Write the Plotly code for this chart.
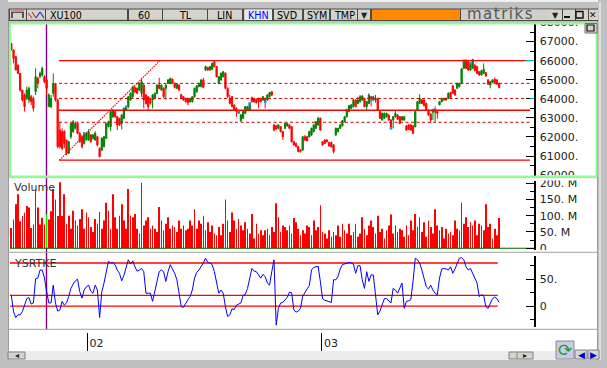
import plotly.graph_objects as go

W, H = 607, 368

opens = [66910,66560,66210,65770,65340,64460,64200,64020,63940,64110,
 64020,64370,65070,65160,65250,65160,64990,63590,63590,64290,
 64810,63940,62360,62280,62280,61840,61140,62010,62280,62450,
 62710,62190,62010,61660,61840,61840,62100,61930,61840,62010,
 61400,61310,61490,61930,62540,62540,63060,63330,63060,62980,
 62710,62980,63410,63590,63940,64110,64600,64550,64460,64290,
 64720,64200,64110,64000,63940,64020,64290,
 64720,64460,64550,64550,64810,64810,65030,64810,64550,64720,
 64220,64110,64020,64020,63850,63850,64110,64370,64640,64640,64990,
 65510,65640,65510,65550,65950,65690,64810,64990,65160,65340,
 64550,64020,64110,63670,63500,63240,62850,62980,63240,63410,
 63410,64070,64020,63980,64020,64020,63940,64020,63940,64110,64370,
 62630,62580,62450,62540,62280,62450,62580,62630,62540,61750,
 61660,61490,61310,61310,62010,62010,62010,62100,62280,62450,
 62630,62980,61750,61840,61840,61710,61710,61580,62100,62280,
 62450,62580,62800,63060,63330,63500,63590,63940,63760,63850,
 63940,64020,63590,63760,64110,63940,63940,64020,63330,62890,
 62980,63060,63150,62890,62890,63060,63150,63060,62890,62890,
 62580,62630,62630,62580,62540,63410,63760,63940,63940,63760,
 63410,63200,63300,63300,63330,63680,63850,64020,63940,64020,
 64330,64680,64460,64550,64640,64810,65600,66030,65950,65510,
 65600,65770,65690,65420,65250,65340,65370,64990,64720,64860,65030,64990,64810]
closes = [66560,66120,65510,65340,64460,63940,63590,64460,64550,63850,
 63500,65160,64810,65340,65600,64900,64550,64200,64020,64810,
 63940,61490,61490,61400,61660,61140,61750,62710,62800,62710,
 62190,61750,61490,62190,62190,62280,61750,62100,62190,61580,
 60960,61930,62010,62710,62800,63330,63410,63060,62630,62630,
 63150,63500,63590,64110,64290,64640,64370,64290,64810,64900,
 63940,63760,63590,63760,64200,64290,64720,
 64550,64720,64110,64720,64990,65070,64810,64600,64770,64460,
 64020,63940,63850,63800,64020,64110,64550,64680,64810,64990,64600,
 65690,65510,65690,65860,65690,65160,65160,65340,65420,64550,
 64110,63760,63590,63410,63330,63330,63150,63330,63590,63590,
 63760,63850,63850,63800,63850,63850,64110,63850,64200,64330,64200,
 62360,62410,62630,62280,62010,62710,62710,62450,61750,61580,
 61490,61230,61230,62010,61840,61800,62280,62450,62630,62800,
 62980,62360,61580,61660,61750,61530,61480,61230,62450,62450,
 62630,62850,63060,63410,63640,63680,63940,63590,63940,64110,
 64150,63590,63850,64200,63940,64110,64020,63410,62980,63240,
 63240,63240,62890,62450,63060,63240,62930,62710,63060,63060,
 62360,62400,62360,62190,63330,63850,64020,63760,63640,63410,
 63150,62890,63410,63410,63240,63850,64020,63940,64020,64290,
 64060,64290,64200,64810,64810,65570,66000,65600,65510,65860,
 66060,65480,65340,65250,65480,65550,65200,64770,64900,64990,64860,64770,64600]
highs = [66910,66600,66250,65800,65340,64460,64290,64640,64640,64200,
 64110,65600,65160,65430,65690,65250,65070,64290,64200,65340,
 64810,64020,62800,62450,62360,61840,61800,62750,62890,62800,
 62750,62250,62100,62250,62250,62400,62150,62150,62300,62050,
 61450,61980,62050,62750,62850,63350,63450,63370,63100,63000,
 63200,63550,63640,64150,64330,64680,64650,64600,64850,65100,
 64760,64250,64150,64050,64250,64330,64760,
 65100,64760,64600,64760,65030,65110,65070,64850,64810,64760,
 64260,64150,64060,64060,64060,64150,64590,64720,64850,65030,65100,
 65730,65680,65730,65900,66030,65730,65200,65380,65460,65380,
 64600,64200,64150,63710,63550,63370,63200,63370,63630,63630,
 63800,64110,64060,64020,64060,64060,64150,64060,64240,64370,64410,
 62670,62620,62670,62580,62320,62750,62750,62670,62580,61790,
 61700,61530,61350,62050,62100,62050,62320,62490,62670,62840,
 63060,63020,61790,61880,61880,61750,61750,61620,62490,62490,
 62670,62890,63100,63450,63680,63720,63980,63980,64110,64200,
 64190,64060,63890,64290,64150,64150,64200,64060,63370,63280,
 63280,63280,63190,62930,63100,63410,63190,63100,63100,63100,
 62620,62670,62670,62620,63370,63890,64240,63980,63980,63800,
 63450,63240,63450,63600,63370,63890,64060,64060,64060,64330,
 64370,64720,64500,64850,64850,65610,66040,66070,65990,65900,
 66100,65810,65730,65460,65520,65860,65410,65030,64940,65030,65120,65030,64850]
lows = [66560,65860,65510,65300,64370,63850,63330,63940,63760,63670,
 63330,64200,64550,65070,65160,64810,64200,63590,63500,64110,
 63850,61400,61400,61310,61400,61050,61100,61900,62200,62400,
 62150,61700,61400,61600,61800,61800,61700,61850,61800,61500,
 60930,61250,61450,61900,62500,62300,63000,63000,62360,62580,
 62400,62950,63380,63500,63900,64050,64300,64250,64400,64100,
 63500,63700,63400,63700,63500,63980,64250,
 64500,64420,64050,63960,64770,64770,64770,64550,64500,64400,
 63980,63900,63800,63650,63800,63800,64060,64320,64600,64600,64550,
 65470,65470,65470,65500,65650,65120,64770,64950,65120,64500,
 64060,63700,63550,63370,63060,63200,62800,62940,63200,63370,
 63370,63800,63800,63750,63500,63800,63900,63500,63900,64070,64150,
 62280,62370,62410,62240,61840,62410,62540,62410,61710,61540,
 61450,61190,61190,61270,61800,61760,61970,62060,62240,62410,
 62590,62320,61540,61620,61710,61490,61440,61140,62060,62240,
 62410,62540,62760,63020,63290,63460,63550,63550,63720,63810,
 63900,63550,63400,63720,63600,63900,63800,63370,62940,62850,
 62940,63020,62850,62400,62450,63020,62890,62670,62850,62850,
 62320,62360,62320,62150,62500,63370,63720,63720,63600,63370,
 63110,62720,62890,62800,62950,63670,63810,63900,63900,63980,
 64020,64250,64160,64510,64600,64770,65560,65560,65470,65470,
 65560,65440,65300,65210,65210,65300,65160,64730,64550,64820,64820,64730,64560]
doji_bars = [33,52,103,108,115,152,163,172,191,192,205,208]

volume_m = [62,88,135,166,83,99,109,130,125,62,73,182,125,73,94,73,104,88,114,182,
 150,99,203,99,166,75,100,60,115,85,70,90,120,60,110,95,65,50,90,75,
 111,60,85,140,115,60,166,95,60,100,135,85,60,182,100,95,105,60,45,200,
 70,85,95,60,70,60,50,127,85,55,75,95,60,70,65,50,85,60,70,55,
 60,85,70,120,60,85,75,100,55,80,50,70,45,40,65,40,75,150,85,50,
 110,85,60,90,70,55,80,60,45,105,30,75,45,55,40,55,60,40,65,50,
 138,95,50,70,65,55,70,45,93,80,60,40,55,45,70,65,40,85,55,65,
 132,50,45,30,55,35,50,40,70,35,75,55,45,75,40,50,75,35,45,95,
 60,40,70,85,65,45,100,50,60,30,55,70,104,45,70,50,60,55,35,70,
 40,85,55,105,65,95,50,80,35,85,65,45,120,70,55,65,30,60,45,50,
 40,85,60,55,140,75,95,65,80,70,85,40,75,70,55,135,65,75,30,60,40,93]

ysrtke = [20,-10,-21,-16,-16,-10,2,14,16,4,6,51,52,67,67,52,27,6,6,39,
 6,-9,-7,9,2,6,18,33,41,47,50,27,15,30,36,39,28,24,39,30,
 -21,27,43,61,83,80,81,77,67,61,47,57,73,86,78,84,73,65,67,70,
 64,24,24,24,9,30,46,64,67,64,46,64,77,69,61,49,24,-1,-2,6,
 12,18,30,52,63,67,73,80,89,81,80,77,64,43,24,30,24,-1,-19,-16,
 -5,-6,2,4,6,20,22,33,55,70,65,64,58,52,59,55,43,39,64,86,
 -35,-4,6,7,12,16,26,25,-7,-11,-9,-4,18,26,32,38,67,72,73,74,
 46,14,11,10,9,7,49,49,55,69,77,78,80,81,80,78,61,75,75,49,
 33,64,46,58,58,21,-16,-9,1,14,14,9,6,33,30,24,32,43,-4,9,
 10,12,46,89,86,80,67,49,36,32,39,30,24,21,52,69,70,69,67,73,
 61,69,78,89,90,86,73,67,70,61,51,43,18,21,20,-1,-4,7,14,17,14,7]

price_solid = [66000, 63400, 60780]
price_dashed = [64810, 64020, 62770]
level_span = [21.6, 235]
trend_bars = [21.8, 67.3]
trend_price = [60780, 66000]
osc_levels = [80, 20, 0]
osc_span = [-0.6, 220.4]
cursor_bar = 16

price_ticks = [68000,67000,66000,65000,64000,63000,62000,61000,60000]
price_labels = ["68000.","67000.","66000.","65000.","64000.","63000.","62000.","61000.","60000."]
price_minor = [67500,66500,65500,64500,63500,62500,61500,60500]
vol_ticks = [200,150,100,50,0]
vol_labels = ["200. M","150. M","100. M","50. M","0"]
vol_minor = [175,125,75,25]
osc_ticks = [50,0]
osc_labels = ["50.","0"]
osc_minor = [75,25,-25]
month_bars = [34.5, 140.7]
month_labels = ["02","03"]

def fx(px): return px / W
def fy(px): return 1 - px / H

GRAY = "#c0c0c0"
BTN = "#d6d3cb"
shapes, ann = [], []

def rect(x0, y0, x1, y1, fill, line=None, lw=1, layer="above"):
    shapes.append(dict(type="rect", xref="paper", yref="paper", x0=fx(x0), x1=fx(x1),
                       y0=fy(y0), y1=fy(y1), fillcolor=fill, layer=layer,
                       line=dict(color=line or fill, width=lw if line else 0)))
def seg(x0, y0, x1, y1, color, lw=1, layer="above"):
    shapes.append(dict(type="line", xref="paper", yref="paper", x0=fx(x0), x1=fx(x1),
                       y0=fy(y0), y1=fy(y1), layer=layer, line=dict(color=color, width=lw)))
def text(x, y, s, size=11, color="#222", family="DejaVu Sans", anchor="left"):
    ann.append(dict(text=s, x=fx(x), y=fy(y), xref="paper", yref="paper", showarrow=False,
                    xanchor=anchor, yanchor="middle", font=dict(size=size, color=color, family=family),
                    borderpad=0))

# white panes (below the marks)
rect(8.5, 21, 597.5, 351, "#ffffff", layer="below")
# cursor line
seg(46.5, 22, 46.5, 329, "#800080", 1.4, "below")

# masks & window chrome above the axis labels
rect(0, 0, 607, 23, GRAY)
seg(0, 1, 607, 1, "#f0f0f0", 2)
rect(8.5, 8.5, 598, 21, "#4a4a4a")
rect(0, 0, 8, 368, GRAY)
rect(598, 0, 607, 368, GRAY)
rect(0, 360, 607, 368, GRAY)
seg(600, 2, 600, 360, "#ffffff", 1)
seg(8.5, 21, 8.5, 351, "#9a9a9a", 1)
seg(597.5, 21, 597.5, 351, "#9a9a9a", 1)
# clipping of the half labels
rect(536, 175.3, 596, 180.5, "#ffffff")
rect(536, 250, 596, 252, "#ffffff")
# pane frames
shapes.append(dict(type="rect", xref="paper", yref="paper", x0=fx(10), x1=fx(596.5), y0=fy(23.5), y1=fy(176.5),
                   line=dict(color="#90ff90", width=2), layer="above"))
seg(9, 177.7, 597, 177.7, "#c8c8c8", 1)
seg(9, 252.3, 597, 252.3, "#a0a0a0", 1)
seg(9, 329.3, 597, 329.3, "#a0a0a0", 1)

# toolbar buttons
buttons = [(10, 26), (27, 45), (46, 127), (129, 162), (163, 207), (208, 242), (244, 272), (274, 302),
           (304, 329), (331, 357), (358, 370)]
for a, b in buttons:
    rect(a, 9.5, b, 20, BTN)
    seg(a, 20.3, b, 20.3, "#505050", 1)
rect(245, 9.5, 272, 20, "#e8e8ee")
rect(372, 9.5, 460, 20, "#ff8a00")
rect(461, 9.5, 553, 20, "#c4c4c4")
rect(461, 9.5, 549, 20, "#d0cfc9")
for a, b in [(549, 562), (563, 575), (576, 588), (589, 598)]:
    rect(a, 9.5, b, 20, BTN)
text(49, 15.5, "XU100", 9.6, "#000")
text(144, 15.5, "60", 9.6, "#000", anchor="center")
text(185, 15.5, "TL", 9.6, "#000", anchor="center")
text(224, 15.5, "LIN", 9.6, "#000", anchor="center")
text(258, 15.5, "KHN", 9.6, "#0000ff", anchor="center")
text(287, 15.5, "SVD", 9.6, "#000", anchor="center")
text(317, 15.5, "SYM", 9.6, "#000", anchor="center")
text(344, 15.5, "TMP", 9.6, "#000", anchor="center")
text(364, 15.5, "▼", 8, anchor="center")
text(500, 13.5, "m\u200aa\u200at\u200ar\u200ai\u200ak\u200as", 15, "#555555", anchor="center")
text(555, 15.5, "▼", 8, anchor="center")
rect(564, 16, 570, 18, "#111111")
shapes.append(dict(type="rect", xref="paper", yref="paper", x0=fx(576), x1=fx(583), y0=fy(11.5), y1=fy(18),
                   line=dict(color="#111111", width=1.4), layer="above"))
text(593, 15, "✕", 9, "#111", anchor="center")
# icons
rect(11, 12, 24, 13, "#555555"); rect(11, 13, 13, 18, "#555555"); rect(22, 13, 24, 18, "#555555")
seg(11, 11, 24, 11, "#e04040", 1)
seg(28, 13, 32, 18, "#e03030", 1.2); seg(32, 12, 36, 18, "#e03030", 1.2)
seg(36, 18, 40, 12, "#2030e0", 1.2); seg(40, 12, 44, 18, "#2030e0", 1.2)

# small restore button in the pane
rect(585, 23.5, 597, 33, BTN, "#707070", 1)
shapes.append(dict(type="rect", xref="paper", yref="paper", x0=fx(587), x1=fx(594), y0=fy(25), y1=fy(31),
                   line=dict(color="#111111", width=1.2), layer="above"))

# bottom scrollbar
rect(9, 351, 597, 360, "#ececec")
rect(8, 352, 25, 359, BTN, "#808080", 1)
text(16.5, 355.5, "◂", 8, anchor="center")
rect(509, 352, 533, 359, BTN, "#808080", 1)
seg(517, 352, 517, 359, "#808080", 1)
text(525, 355.5, "▸", 8, anchor="center")
rect(556, 341, 574, 359, "#c9cbe6", "#8a8a8a", 1)
text(565, 349.5, "⟳", 17, "#1a9a30", anchor="center")
rect(575, 350, 587, 359, "#d8d8d8", "#808080", 1)
text(581, 354.5, "◀", 9, "#0000d0", anchor="center")
rect(588, 350, 599, 359, "#d8d8d8", "#808080", 1)
text(593.5, 354.5, "▶", 9, "#0000d0", anchor="center")

# pane titles
text(13, 187.5, "Volume", 11, "#333333")
text(13, 263, "YSRTKE", 11, "#333333")

fig = go.Figure()
x = list(range(len(closes)))

fig.add_trace(go.Candlestick(
    x=x, open=opens, high=highs, low=lows, close=closes, xaxis="x", yaxis="y",
    increasing=dict(line=dict(color="#008000", width=1), fillcolor="#008000"),
    decreasing=dict(line=dict(color="#ff0000", width=1), fillcolor="#ff0000"),
    whiskerwidth=0, showlegend=False))
fig.add_trace(go.Scatter(x=doji_bars, y=[closes[i] for i in doji_bars], mode="markers", xaxis="x", yaxis="y",
                         marker=dict(symbol="square", size=2.5, color="#1e90ff", line=dict(width=0)), showlegend=False))
for lv in price_solid:
    fig.add_trace(go.Scatter(x=level_span, y=[lv, lv], mode="lines", xaxis="x", yaxis="y",
                             line=dict(color="#ff0000", width=1.3), showlegend=False))
for lv in price_dashed:
    fig.add_trace(go.Scatter(x=level_span, y=[lv, lv], mode="lines", xaxis="x", yaxis="y",
                             line=dict(color="#e00000", width=1, dash="3px,2.5px"), showlegend=False))
fig.add_trace(go.Scatter(x=trend_bars, y=trend_price, mode="lines", xaxis="x", yaxis="y",
                         line=dict(color="#ff0000", width=1.2, dash="1.5px,1px"), showlegend=False))

vol_colors = ["#00ff00" if i == cursor_bar else "#ff0000" for i in x]
fig.add_trace(go.Bar(x=x, y=volume_m, width=0.3, marker=dict(color=vol_colors, line=dict(width=0)),
                     xaxis="x", yaxis="y2", showlegend=False))
fig.add_trace(go.Scatter(x=[-0.6, 236.8], y=[0, 0], mode="lines", xaxis="x", yaxis="y2",
                         line=dict(color="#006400", width=1.2), showlegend=False))

for lv in osc_levels:
    fig.add_trace(go.Scatter(x=osc_span, y=[lv, lv], mode="lines", xaxis="x", yaxis="y3",
                             line=dict(color="#ff0000", width=1.3), showlegend=False))
fig.add_trace(go.Scatter(x=x, y=ysrtke, mode="lines", xaxis="x", yaxis="y3",
                         line=dict(color="#0000ff", width=1), showlegend=False))

# cyan marks on the price axis
shapes.append(dict(type="line", xref="paper", yref="y", x0=fx(526), x1=fx(534), y0=66000, y1=66000,
                   line=dict(color="#00e5ff", width=1), layer="above"))
shapes.append(dict(type="line", xref="paper", yref="y", x0=fx(530), x1=fx(534), y0=64020, y1=64020,
                   line=dict(color="#00b0c0", width=1), layer="above"))

def yax(top, bottom, rng, tv, tt, minor):
    return dict(domain=[fy(bottom), fy(top)], range=rng, anchor="free", position=fx(534.5), side="right",
                showgrid=False, zeroline=False, showline=True, linecolor="#000000", linewidth=2,
                tickmode="array", tickvals=tv, ticktext=tt, ticks="inside", ticklen=8, tickwidth=1.3,
                tickcolor="#000000", ticklabelposition="outside", ticklabelstandoff=2,
                minor=dict(tickmode="array", tickvals=minor, ticks="inside", ticklen=4, tickwidth=1.3,
                           tickcolor="#000000", showgrid=False),
                tickfont=dict(family="DejaVu Sans", size=11, color="#222222"))

fig.update_layout(
    width=W, height=H, autosize=False, margin=dict(l=0, r=0, t=0, b=0, autoexpand=False),
    paper_bgcolor=GRAY, plot_bgcolor="rgba(0,0,0,0)", showlegend=False,
    xaxis=dict(domain=[fx(10), fx(534)], range=[-0.6, 236.8], anchor="free", position=fy(332),
               rangeslider=dict(visible=False), showgrid=False, zeroline=False, showline=False,
               tickmode="array", tickvals=month_bars, ticktext=month_labels, ticks="outside",
               ticklen=18, tickwidth=1, tickcolor="#000000", ticklabelshift=9, ticklabelstandoff=-17,
               tickfont=dict(family="DejaVu Sans", size=11, color="#222222")),
    yaxis=yax(22, 175.5, [59977, 68030], price_ticks, price_labels, price_minor),
    yaxis2=yax(180.5, 250, [-5.3, 208], vol_ticks, vol_labels, vol_minor),
    yaxis3=yax(256, 327, [-38.5, 93], osc_ticks, osc_labels, osc_minor),
    shapes=shapes, annotations=ann, boxgap=0.2, bargap=0.5, dragmode=False,
)
fig.write_html("out.html", config=dict(displayModeBar=False),
               post_script="document.body.style.margin='0';document.documentElement.style.overflow='hidden';")
